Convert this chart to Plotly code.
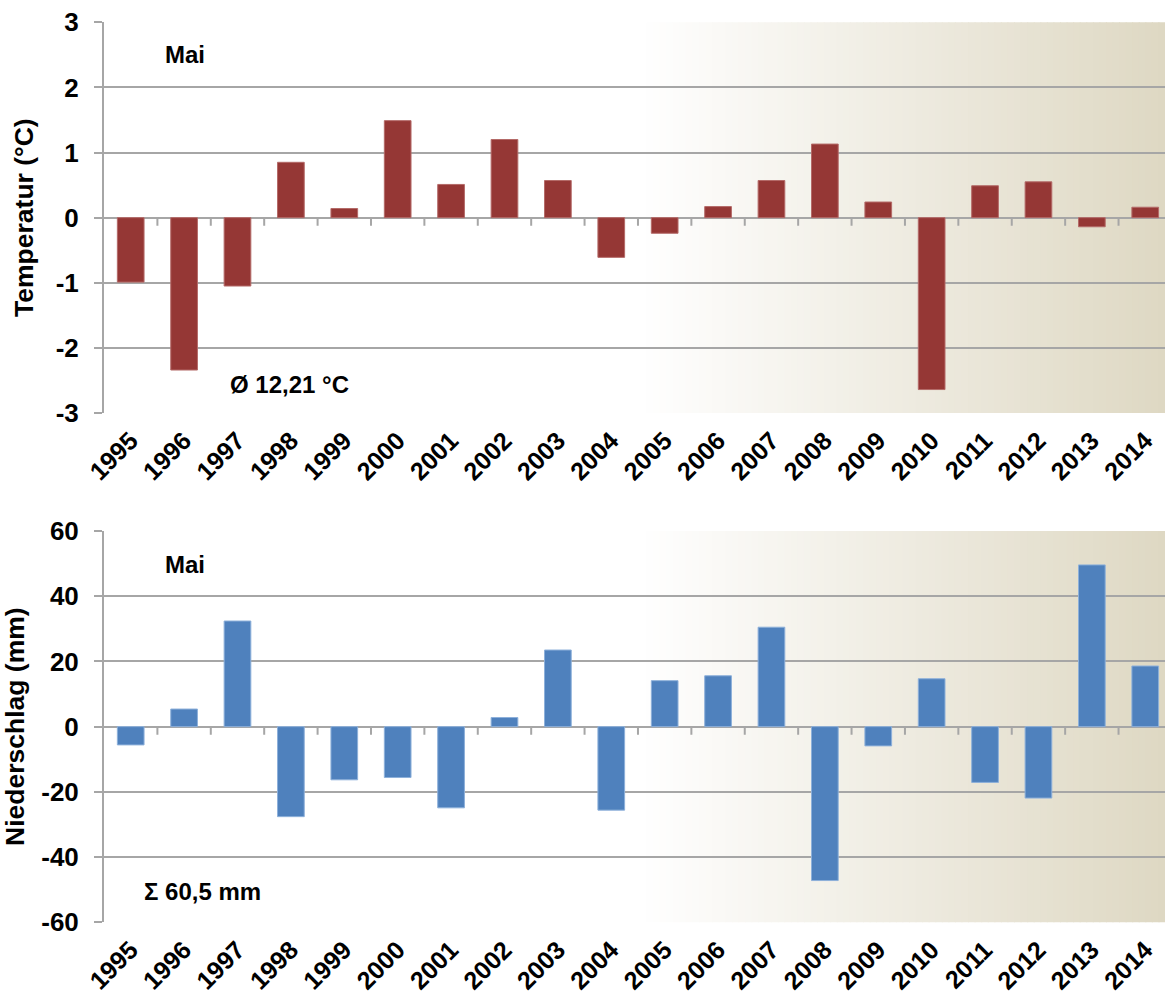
import plotly.graph_objects as go

years = [str(y) for y in range(1995, 2015)]
temp_anomaly = [-0.99, -2.34, -1.05, 0.85, 0.14, 1.49, 0.51, 1.20, 0.57, -0.61,
                -0.24, 0.17, 0.57, 1.13, 0.24, -2.64, 0.49, 0.55, -0.14, 0.16]
precip_anomaly = [-5.6, 5.4, 32.4, -27.6, -16.3, -15.6, -24.9, 2.8, 23.5, -25.6,
                  14.1, 15.6, 30.5, -47.2, -5.9, 14.7, -17.1, -21.9, 49.6, 18.6]
temp_ticks = [-3, -2, -1, 0, 1, 2, 3]
precip_ticks = [-60, -40, -20, 0, 20, 40, 60]
month_label = "Mai"
temp_mean_label = "Ø 12,21 °C"
precip_sum_label = "Σ 60,5 mm"

W, H = 1165, 996
FONT = "Liberation Sans"
GRID = "#A6A6A6"
RED = "#953735"
BLUE = "#4F81BD"

fig = go.Figure()
fig.add_trace(go.Bar(x=years, y=temp_anomaly, xaxis="x", yaxis="y",
                     marker=dict(color=RED, line=dict(color="#B46A68", width=1)),
                     width=0.5, showlegend=False))
fig.add_trace(go.Bar(x=years, y=precip_anomaly, xaxis="x2", yaxis="y2",
                     marker=dict(color=BLUE, line=dict(color="#8DB0DA", width=1)),
                     width=0.5, showlegend=False))

xr = [-0.5, 19.37]
common_x = dict(type="category", range=xr, showgrid=False, zeroline=False,
                showline=False, ticks="", tickangle=-45, automargin=False,
                tickfont=dict(family=FONT, size=25, color="black", weight="bold"),
                ticklabelshift=0, ticklabelstandoff=7,
                domain=[0, 1], fixedrange=True)
fig.update_layout(
    xaxis=dict(common_x, anchor="y"),
    xaxis2=dict(common_x, anchor="y2"),
)

common_y = dict(showgrid=True, gridcolor=GRID, gridwidth=2,
                zeroline=True, zerolinecolor=GRID, zerolinewidth=2,
                showline=True, linecolor=GRID, linewidth=2, automargin=False,
                ticks="outside", ticklen=8, tickwidth=2, tickcolor=GRID,
                tickfont=dict(family=FONT, size=26, color="black", weight="bold"),
                ticklabelstandoff=10, fixedrange=True)
fig.update_layout(
    yaxis=dict(common_y, anchor="x", domain=[(H - 413) / H, (H - 22.3) / H],
               range=[-3, 3], tickvals=temp_ticks,
               ticktext=[str(v) for v in temp_ticks],
               title=dict(text="Temperatur (°C)", standoff=14,
                          font=dict(family=FONT, size=26.5, color="black", weight="bold"))),
    yaxis2=dict(common_y, anchor="x2", domain=[(H - 922.3) / H, (H - 531) / H],
                range=[-60, 60], tickvals=precip_ticks,
                ticktext=[str(v) for v in precip_ticks],
                title=dict(text="Niederschlag (mm)", standoff=14,
                           font=dict(family=FONT, size=26.5, color="black", weight="bold"))),
)

# background gradient (white -> beige) on the right part of each plot area
shapes = []
f0 = 0.505
n = 80
c0 = (255, 255, 255)
c1 = (222, 216, 195)
for ax_x, ax_y in (("x", "y"), ("x2", "y2")):
    for i in range(n):
        a = f0 + (1 - f0) * i / n
        b = f0 + (1 - f0) * (i + 1) / n + 0.001
        t = (i + 0.5) / n
        col = "rgb(%d,%d,%d)" % tuple(round(c0[k] + (c1[k] - c0[k]) * t) for k in range(3))
        shapes.append(dict(type="rect", xref=f"{ax_x} domain", yref=f"{ax_y} domain",
                           x0=a, x1=min(b, 1), y0=0, y1=1, fillcolor=col,
                           line=dict(width=0), layer="below"))
    # category boundary tick marks hanging below the zero line
    for i in range(len(years) - 1):
        shapes.append(dict(type="line", xref=ax_x, yref=ax_y, x0=i + 0.5, x1=i + 0.5,
                           ysizemode="pixel", yanchor=0, y0=0, y1=-8,
                           line=dict(color=GRID, width=2), layer="above"))

ann_font = dict(family=FONT, size=24, color="black", weight="bold")
annotations = [
    dict(text=month_label, xref="x", yref="y", x=0.6, y=2.5, xanchor="left",
         yanchor="middle", showarrow=False, font=ann_font),
    dict(text=temp_mean_label, xref="x", yref="y", x=1.83, y=-2.56, xanchor="left",
         yanchor="middle", showarrow=False, font=ann_font),
    dict(text=month_label, xref="x2", yref="y2", x=0.6, y=49.6, xanchor="left",
         yanchor="middle", showarrow=False, font=ann_font),
    dict(text=precip_sum_label, xref="x2", yref="y2", x=0.21, y=-50.6, xanchor="left",
         yanchor="middle", showarrow=False, font=ann_font),
]

fig.update_layout(
    width=W, height=H,
    margin=dict(l=104, r=0, t=0, b=0, autoexpand=False),
    paper_bgcolor="white", plot_bgcolor="rgba(0,0,0,0)",
    shapes=shapes, annotations=annotations,
    bargap=0.5, showlegend=False,
    font=dict(family=FONT, color="black"),
)

fig.write_html("out.html", config={"displayModeBar": False},
               post_script="document.body.style.margin='0';")
